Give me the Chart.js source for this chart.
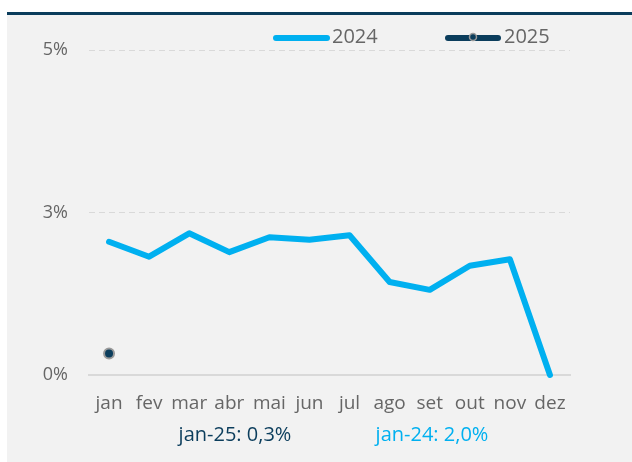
<!DOCTYPE html>
<html>
<head>
<meta charset="utf-8">
<script src="https://cdn.jsdelivr.net/npm/chart.js@4"></script>
<style>
  html, body { margin: 0; padding: 0; background: #fff; }
  #wrap { position: relative; width: 632px; height: 462px; }
  #panel { position: absolute; left: 7px; top: 12px; width: 625px; height: 447px;
           background: #f2f2f2; border-top: 3px solid #0b3d5c; }
  #chart { position: absolute; left: 0; top: 0; }
</style>
</head>
<body>
<div id="wrap">
  <div id="panel"></div>
  <canvas id="chart" width="632" height="462"></canvas>
</div>
<script>
// data
const months = ["jan", "fev", "mar", "abr", "mai", "jun", "jul", "ago", "set", "out", "nov", "dez"];
const values2024 = [2.05, 1.82, 2.18, 1.89, 2.12, 2.08, 2.15, 1.43, 1.31, 1.68, 1.78, 0.0];
const values2025 = [0.33, null, null, null, null, null, null, null, null, null, null, null];
const yTicks = [0, 2.5, 5];
const notes = [
  { text: "jan-25: 0,3%", color: "#0b3d5c", x: 235 },
  { text: "jan-24: 2,0%", color: "#00b0f0", x: 432 }
];

const LIGHT = "#00b0f0";
const DARK = "#0b3d5c";
const FONT = "'Open Sans', 'Noto Sans', sans-serif";

// -----------------------------
// Legend + notes drawn on canvas
// -----------------------------
const extrasPlugin = {
  id: "extras",
  afterDraw(chart) {
    const ctx = chart.ctx;
    ctx.save();
    ctx.lineCap = "round";
    ctx.lineWidth = 6;

    // 2024
    ctx.strokeStyle = LIGHT;
    ctx.beginPath(); ctx.moveTo(276, 38); ctx.lineTo(327, 38); ctx.stroke();
    // 2025
    ctx.strokeStyle = DARK;
    ctx.beginPath(); ctx.moveTo(448, 38); ctx.lineTo(498, 38); ctx.stroke();
    ctx.beginPath(); ctx.arc(473, 37, 3.5, 0, Math.PI * 2);
    ctx.fillStyle = DARK; ctx.fill();
    ctx.lineWidth = 1.5; ctx.strokeStyle = "#9a9a9a"; ctx.stroke();

    ctx.font = "20px " + FONT;
    ctx.fillStyle = "#666";
    ctx.textBaseline = "middle";
    ctx.textAlign = "left";
    ctx.fillText("2024", 332, 37);
    ctx.fillText("2025", 504, 37);

    ctx.textAlign = "center";
    notes.forEach(n => {
      ctx.fillStyle = n.color;
      ctx.fillText(n.text, n.x, 435);
    });
    ctx.restore();
  }
};

new Chart(document.getElementById("chart"), {
  type: "line",
  data: {
    labels: months,
    datasets: [
      {
        label: "2024",
        data: values2024,
        borderColor: LIGHT,
        borderWidth: 6,
        borderCapStyle: "round",
        borderJoinStyle: "round",
        pointRadius: 0,
        tension: 0,
        clip: false
      },
      {
        label: "2025",
        data: values2025,
        borderColor: "#9a9a9a",
        backgroundColor: DARK,
        showLine: false,
        pointRadius: 5,
        pointBorderWidth: 2
      }
    ]
  },
  options: {
    responsive: false,
    animation: false,
    layout: { padding: { top: 50, right: 62, left: 0, bottom: 0 } },
    plugins: { legend: { display: false }, tooltip: { enabled: false } },
    scales: {
      x: {
        offset: true,
        grid: { display: false },
        border: { display: true, color: "#d9d9d9", width: 2 },
        ticks: { color: "#666", font: { family: FONT, size: 19 }, padding: 9, maxRotation: 0, autoSkip: false },
        afterFit(scale) { scale.height = 87; }
      },
      y: {
        min: 0,
        max: 5,
        afterBuildTicks(scale) { scale.ticks = yTicks.map(v => ({ value: v })); },
        grid: {
          drawTicks: false,
          color: c => (c.tick && c.tick.value === 0 ? "rgba(0,0,0,0)" : "#d9d9d9"),
          lineWidth: 1
        },
        border: { display: false, dash: [6, 4] },
        ticks: {
          color: "#666",
          font: { family: FONT, size: 18 },
          padding: 21,
          callback: v => Math.round(v) + "%"
        },
        afterFit(scale) { scale.width = 89; }
      }
    }
  },
  plugins: [extrasPlugin]
});
</script>
</body>
</html>
